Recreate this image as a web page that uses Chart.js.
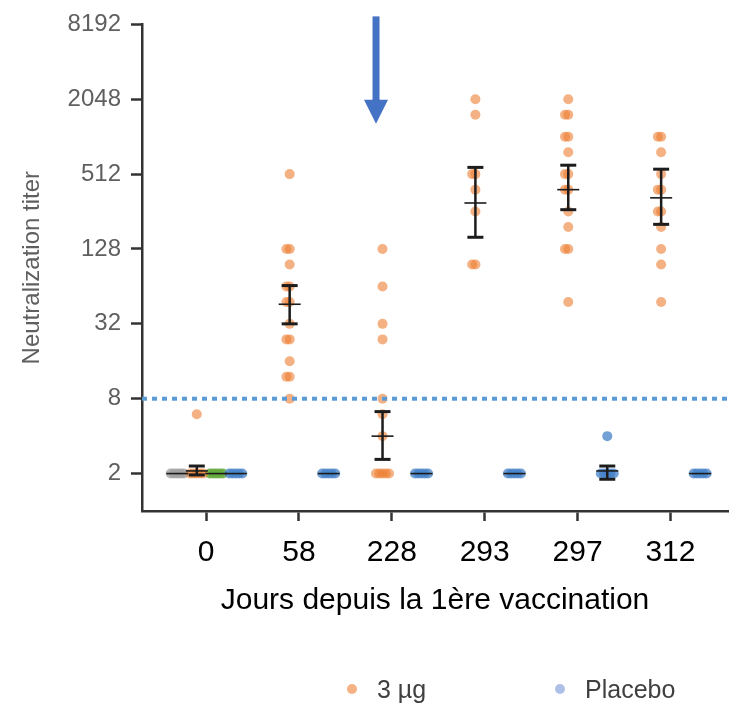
<!DOCTYPE html>
<html>
<head>
<meta charset="utf-8">
<script src="https://cdn.jsdelivr.net/npm/chart.js@4/dist/chart.umd.min.js"></script>
<style>
  body { margin: 0; background: #fff; }
  #wrap { position: relative; width: 733px; height: 709px; }
  #legend { position: absolute; left: 0; top: 674px; width: 733px; height: 30px;
            font-family: "Liberation Sans", Arial, sans-serif; font-size: 25px; color: #404040; }
  .item { position: absolute; top: 0; line-height: 30px; white-space: nowrap; }
  .dot { display: inline-block; width: 10px; height: 10px; border-radius: 50%; vertical-align: middle; margin-right: 20px; position: relative; top: -2px; }
</style>
</head>
<body>
<div id="wrap">
  <canvas id="titer_chart" width="733" height="709"></canvas>
  <div id="legend">
    <span class="item" style="left:347px"><span class="dot" style="background:rgba(237,125,49,0.6)"></span>3 µg</span>
    <span class="item" style="left:555px"><span class="dot" style="background:rgba(120,150,215,0.6)"></span>Placebo</span>
  </div>
</div>
<script>
// chart data
var dayLabels = ["0", "58", "228", "293", "297", "312"];
var yTicks = [2, 8, 32, 128, 512, 2048, 8192];
var threshold = 8;

// 3 µg group, one list per day
var dose3 = [
    [2, 2, 2, 2, 2, 6],
    [512, 128, 128, 96, 64, 64, 48, 48, 32, 24, 24, 16, 12, 12, 8],
    [128, 64, 32, 24, 8, 6, 4, 2, 2, 2, 2, 2],
    [2048, 1536, 512, 512, 384, 256, 96, 96],
    [2048, 1536, 1536, 1024, 1024, 768, 512, 512, 384, 384, 256, 192, 128, 128, 48],
    [1024, 1024, 768, 512, 384, 384, 256, 256, 192, 128, 96, 48]
];
var dose3Mean = [2.1, 46, 4, 300, 384, 330];
var dose3Lo = [1.95, 32, 2.6, 159, 265, 202];
var dose3Hi = [2.3, 65, 6.3, 580, 604, 561];

// placebo group
var placebo = [
    [2, 2, 2, 2, 2],
    [2, 2, 2, 2, 2],
    [2, 2, 2, 2, 2],
    [2, 2, 2, 2, 2],
    [2, 2, 2, 2, 2, 4],
    [2, 2, 2, 2, 2]
];
var placeboMean = [2, 2, 2, 2, 2.1, 2];
var placeboLo = [null, null, null, null, 1.8, null];
var placeboHi = [null, null, null, null, 2.3, null];

// other groups only left at day 0
var grayDay0 = [2, 2, 2, 2, 2];
var greenDay0 = [2, 2, 2, 2, 2];

// arrow pointing at day 228
var arrowX = 1.83;
var arrowFrom = 9500, arrowTo = 1300;

var offsets = { gray: -0.31, dose: -0.1, green: 0.11, placebo: 0.32 };
var jitter = [0, -0.035, 0.035, -0.07, 0.07, -0.1, 0.1];
var xMin = -0.69, xMax = 5.62;

function cloud(values, center) {
    var seen = {};
    return values.map(function (v) {
        var n = seen[v] = (seen[v] || 0) + 1;
        return { x: center + jitter[(n - 1) % jitter.length], y: v };
    });
}

var dosePoints = [], placeboPoints = [];
dose3.forEach(function (vals, i) { dosePoints = dosePoints.concat(cloud(vals, i + offsets.dose)); });
placebo.forEach(function (vals, i) { placeboPoints = placeboPoints.concat(cloud(vals, i + offsets.placebo)); });

var errorBars = {
    id: "errorBars",
    afterDatasetsDraw: function (chart) {
        var ctx = chart.ctx, xs = chart.scales.x, ys = chart.scales.y;
        ctx.save();
        ctx.strokeStyle = "#1c1c1c";
        function hline(xv, yv, w, lw) {
            var px = xs.getPixelForValue(xv), py = ys.getPixelForValue(yv);
            ctx.lineWidth = lw;
            ctx.beginPath(); ctx.moveTo(px - w / 2, py); ctx.lineTo(px + w / 2, py); ctx.stroke();
        }
        function bar(xv, lo, mean, hi) {
            if (lo != null) {
                var px = xs.getPixelForValue(xv);
                ctx.lineWidth = 2.5;
                ctx.beginPath(); ctx.moveTo(px, ys.getPixelForValue(lo)); ctx.lineTo(px, ys.getPixelForValue(hi)); ctx.stroke();
                hline(xv, lo, 16, 3);
                hline(xv, hi, 16, 3);
            }
            hline(xv, mean, 22, 1.6);
        }
        dose3Mean.forEach(function (m, i) { bar(i + offsets.dose, dose3Lo[i], m, dose3Hi[i]); });
        placeboMean.forEach(function (m, i) { bar(i + offsets.placebo, placeboLo[i], m, placeboHi[i]); });
        bar(offsets.gray, null, 2, null);
        bar(offsets.green, null, 2, null);
        ctx.restore();
    },
    afterDraw: function (chart) {
        var ctx = chart.ctx, xs = chart.scales.x, ys = chart.scales.y;
        var px = xs.getPixelForValue(arrowX);
        var y0 = ys.getPixelForValue(arrowFrom), y1 = ys.getPixelForValue(arrowTo);
        ctx.save();
        ctx.fillStyle = "#4472c4";
        ctx.fillRect(px - 3.5, y0, 7, y1 - y0 - 22);
        ctx.beginPath();
        ctx.moveTo(px - 12, y1 - 24); ctx.lineTo(px + 12, y1 - 24); ctx.lineTo(px, y1);
        ctx.closePath(); ctx.fill();
        ctx.restore();
    }
};

var ctx1 = document.getElementById("titer_chart");
var titerChart = new Chart(ctx1, {
    type: "scatter",
    data: {
        datasets: [{
            type: "line",
            label: "seuil",
            data: [{ x: xMin, y: threshold }, { x: xMax, y: threshold }],
            borderColor: "#5b9bd5",
            borderWidth: 4,
            borderDash: [5, 5],
            pointRadius: 0,
            order: 0
        }, {
            label: "3 µg",
            data: dosePoints,
            backgroundColor: "rgba(237,125,49,0.6)",
            borderWidth: 0,
            pointRadius: 5,
            order: 2
        }, {
            label: "Placebo",
            data: placeboPoints,
            backgroundColor: "rgba(68,130,200,0.75)",
            borderWidth: 0,
            pointRadius: 5,
            order: 2
        }, {
            label: "gris",
            data: cloud(grayDay0, offsets.gray),
            backgroundColor: "rgba(160,160,160,0.8)",
            borderWidth: 0,
            pointRadius: 5,
            order: 2
        }, {
            label: "vert",
            data: cloud(greenDay0, offsets.green),
            backgroundColor: "rgba(100,170,60,0.85)",
            borderWidth: 0,
            pointRadius: 5,
            order: 2
        }]
    },
    options: {
        responsive: false,
        animation: false,
        devicePixelRatio: 1,
        layout: { padding: { top: 16, right: 0, bottom: 86, left: 0 } },
        plugins: { legend: { display: false }, tooltip: { enabled: false } },
        scales: {
            x: {
                type: "linear",
                min: xMin,
                max: xMax,
                afterBuildTicks: function (scale) {
                    scale.ticks = dayLabels.map(function (d, i) { return { value: i }; });
                },
                afterFit: function (scale) { scale.height = 112; },
                ticks: {
                    callback: function (v) { return dayLabels[Math.round(v)]; },
                    font: { family: "'Liberation Sans', Arial", size: 30 },
                    color: "#000",
                    padding: 14
                },
                grid: { drawOnChartArea: false, tickLength: 10, tickColor: "#333", tickWidth: 2.5 },
                border: { color: "#333", width: 2.5 },
                title: {
                    display: true,
                    text: "Jours depuis la 1ère vaccination",
                    font: { family: "'Liberation Sans', Arial", size: 30 },
                    color: "#000",
                    padding: { top: 0, bottom: 4 }
                }
            },
            y: {
                type: "logarithmic",
                min: 1,
                max: 8192,
                afterBuildTicks: function (scale) {
                    scale.ticks = yTicks.map(function (v) { return { value: v }; });
                },
                afterFit: function (scale) { scale.width = 142; },
                ticks: {
                    callback: function (v) { return String(v); },
                    font: { family: "'Liberation Sans', Arial", size: 24 },
                    color: "#5f5f5f",
                    padding: 10
                },
                grid: { drawOnChartArea: false, tickLength: 11, tickColor: "#333", tickWidth: 2.5 },
                border: { color: "#333", width: 2.5 },
                title: {
                    display: true,
                    text: "Neutralization titer",
                    font: { family: "'Liberation Sans', Arial", size: 24 },
                    color: "#5f5f5f",
                    padding: { top: 18, bottom: 0 }
                }
            }
        }
    },
    plugins: [errorBars]
});
</script>
</body>
</html>
